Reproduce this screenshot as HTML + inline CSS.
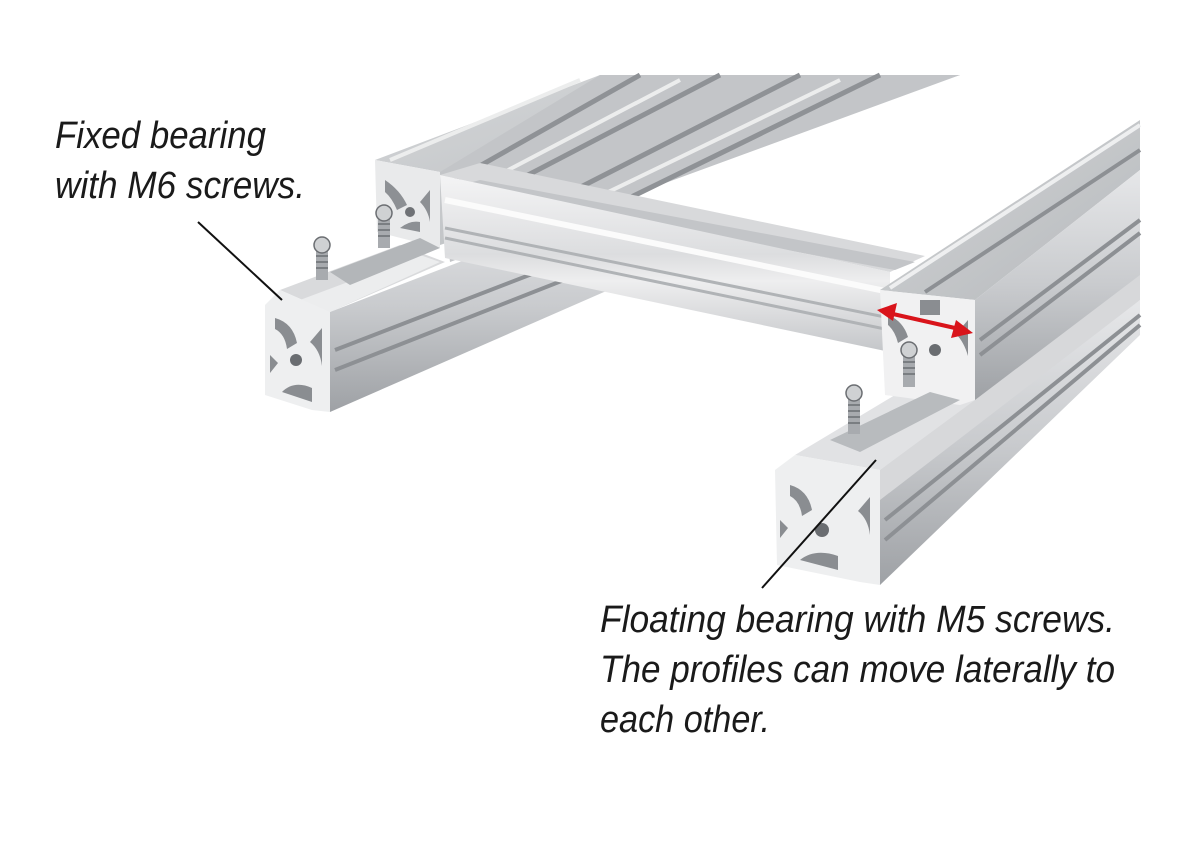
<!DOCTYPE html>
<html><head><meta charset="utf-8"><style>
html,body{margin:0;padding:0;background:#fff;}
svg{display:block}
text{font-family:"Liberation Sans",sans-serif;font-style:italic;fill:#1a1a1a}
</style></head><body>
<svg width="1200" height="844" viewBox="0 0 1200 844" xmlns="http://www.w3.org/2000/svg">
<defs>
<linearGradient id="side" x1="0" y1="0" x2="0" y2="1">
<stop offset="0" stop-color="#e6e7e9"/><stop offset="0.5" stop-color="#c9cbce"/><stop offset="1" stop-color="#9ea1a5"/></linearGradient>
<linearGradient id="top" x1="0" y1="0" x2="1" y2="1">
<stop offset="0" stop-color="#d4d6d8"/><stop offset="1" stop-color="#b5b8bb"/></linearGradient>
<linearGradient id="cross" x1="0" y1="0" x2="0" y2="1">
<stop offset="0" stop-color="#f4f4f5"/><stop offset="0.45" stop-color="#dcdddf"/><stop offset="0.6" stop-color="#eeeeef"/><stop offset="1" stop-color="#c4c6c9"/></linearGradient>
</defs>

<!-- Profile A (back-left, going up-right) -->
<polygon points="375,160 600,75 960,75 440,245 440,172" fill="url(#top)"/>
<polygon points="440,172 600,75 960,75 450,262" fill="#c3c5c8"/>
<g stroke="#8f9296" stroke-width="5" fill="none">
<line x1="455" y1="180" x2="640" y2="75"/>
<line x1="480" y1="200" x2="720" y2="75"/>
<line x1="520" y1="218" x2="800" y2="75"/>
<line x1="560" y1="232" x2="880" y2="75"/>
</g>
<g stroke="#eceded" stroke-width="4" fill="none">
<line x1="390" y1="160" x2="580" y2="80"/>
<line x1="470" y1="190" x2="680" y2="80"/>
<line x1="540" y1="225" x2="840" y2="80"/>
</g>
<!-- A end face -->
<polygon points="375,160 440,172 440,248 377,232" fill="#e9eaeb"/>
<path d="M385,180 q15,10 22,25 l-10,5 q-5,-12 -12,-18z M430,190 l-10,12 q8,8 10,20z M400,228 q10,-8 20,-6 l0,10z" fill="#8d9094"/>
<circle cx="410" cy="212" r="5" fill="#6f7276"/>

<!-- Profile B (left front rail) -->
<polygon points="330,312 620,200 620,285 330,412" fill="url(#side)"/>
<g stroke="#8d9094" stroke-width="4">
<line x1="335" y1="350" x2="620" y2="240"/>
<line x1="335" y1="370" x2="620" y2="258"/>
</g>
<polygon points="280,290 400,245 445,262 330,312" fill="#d9dadc"/>
<polygon points="300,300 420,255 440,262 330,312 310,306" fill="#ecedee"/>
<!-- B end face -->
<path d="M265,305 L280,290 L330,312 L330,412 L312,410 L265,395 Z" fill="#eeeff0"/>
<path d="M275,318 q18,5 22,25 l-10,6 q-2,-15 -12,-20z M322,328 l-12,14 q10,8 12,24z M282,392 q12,-12 30,-4 l0,14z M270,355 l8,8 l-8,10z" fill="#8a8d91"/>
<circle cx="296" cy="360" r="6" fill="#6a6d71"/>

<!-- fixed bearing screws -->
<g>
<rect x="316" y="250" width="12" height="30" fill="#a8abaf"/>
<circle cx="322" cy="245" r="8" fill="#cfd1d3" stroke="#6b6e72" stroke-width="1.5"/>
<g stroke="#6b6e72" stroke-width="1.5"><line x1="316" y1="256" x2="328" y2="256"/><line x1="316" y1="262" x2="328" y2="262"/><line x1="316" y1="268" x2="328" y2="268"/></g>
<rect x="378" y="218" width="12" height="30" fill="#a8abaf"/>
<circle cx="384" cy="213" r="8" fill="#cfd1d3" stroke="#6b6e72" stroke-width="1.5"/>
<g stroke="#6b6e72" stroke-width="1.5"><line x1="378" y1="224" x2="390" y2="224"/><line x1="378" y1="230" x2="390" y2="230"/><line x1="378" y1="236" x2="390" y2="236"/></g>
<polygon points="330,272 420,238 440,248 350,285" fill="#b3b6b9"/>
</g>

<!-- Cross member C -->
<polygon points="440,175 480,163 925,256 890,272" fill="#d8d9db"/>
<polygon points="450,188 480,180 915,262 895,270" fill="#c3c5c8"/>
<polygon points="440,175 890,272 890,352 445,258" fill="url(#cross)"/>
<g stroke="#b0b3b6" stroke-width="3">
<line x1="445" y1="228" x2="890" y2="318"/>
<line x1="445" y1="238" x2="890" y2="330"/>
</g>
<line x1="445" y1="200" x2="890" y2="292" stroke="#fbfbfb" stroke-width="6"/>

<!-- Profile D (right front rail) -->
<polygon points="880,470 1140,300 1140,335 880,585" fill="url(#side)"/>
<polygon points="880,470 1140,270 1140,300 880,500" fill="#d7d8da"/>
<g stroke="#8d9094" stroke-width="4">
<line x1="885" y1="520" x2="1140" y2="315"/>
<line x1="885" y1="540" x2="1140" y2="325"/>
</g>
<polygon points="795,455 880,470 975,400 900,392" fill="#e1e2e4"/>
<!-- D end face -->
<path d="M775,470 L795,455 L880,470 L880,585 L860,582 L777,565 Z" fill="#eeeff0"/>
<path d="M790,485 q18,5 22,25 l-10,6 q-2,-15 -12,-20z M870,497 l-12,14 q10,8 12,24z M800,560 q15,-12 38,-4 l0,14z M780,520 l8,8 l-8,10z" fill="#8a8d91"/>
<circle cx="822" cy="530" r="7" fill="#6a6d71"/>

<!-- Profile E (right upper) -->
<polygon points="880,290 1140,120 1140,170 975,300" fill="url(#top)"/>
<polygon points="975,300 1140,170 1140,275 975,400" fill="url(#side)"/>
<g stroke="#8d9094" stroke-width="4">
<line x1="925" y1="292" x2="1140" y2="150"/>
<line x1="980" y1="340" x2="1140" y2="220"/>
<line x1="980" y1="355" x2="1140" y2="233"/>
</g>
<line x1="890" y1="288" x2="1140" y2="125" stroke="#eeeff0" stroke-width="4"/>
<!-- E end face -->
<path d="M880,290 L975,300 L975,400 L960,405 L885,395 Z" fill="#f1f1f2"/>
<path d="M888,315 q15,6 20,22 l-10,6 q-3,-12 -10,-18z M968,320 l-12,14 q8,8 12,22z M920,300 l20,0 l0,15 l-20,0z" fill="#8a8d91"/>
<circle cx="935" cy="350" r="6" fill="#6a6d71"/>

<!-- floating bearing screws -->
<polygon points="830,440 930,392 960,400 860,452" fill="#b8bbbe"/>
<rect x="848" y="398" width="12" height="36" fill="#a8abaf"/>
<circle cx="854" cy="393" r="8" fill="#cfd1d3" stroke="#6b6e72" stroke-width="1.5"/>
<g stroke="#6b6e72" stroke-width="1.5"><line x1="848" y1="405" x2="860" y2="405"/><line x1="848" y1="411" x2="860" y2="411"/><line x1="848" y1="417" x2="860" y2="417"/><line x1="848" y1="423" x2="860" y2="423"/></g>
<rect x="903" y="355" width="12" height="32" fill="#a8abaf"/>
<circle cx="909" cy="350" r="8" fill="#cfd1d3" stroke="#6b6e72" stroke-width="1.5"/>
<g stroke="#6b6e72" stroke-width="1.5"><line x1="903" y1="362" x2="915" y2="362"/><line x1="903" y1="368" x2="915" y2="368"/><line x1="903" y1="374" x2="915" y2="374"/></g>

<!-- red double arrow -->
<line x1="893" y1="314" x2="955" y2="328" stroke="#d9141b" stroke-width="4"/>
<polygon points="877,310 897,303 893,321" fill="#d9141b"/>
<polygon points="973,333 951,338 956,320" fill="#d9141b"/>

<!-- leader lines -->
<line x1="198" y1="222" x2="282" y2="300" stroke="#111" stroke-width="2"/>
<line x1="762" y1="588" x2="876" y2="460" stroke="#111" stroke-width="2"/>

<!-- labels -->
<text x="55" y="148" font-size="38" textLength="211" lengthAdjust="spacingAndGlyphs">Fixed bearing</text>
<text x="55" y="198" font-size="38" textLength="250" lengthAdjust="spacingAndGlyphs">with M6 screws.</text>
<text x="600" y="632" font-size="38" textLength="515" lengthAdjust="spacingAndGlyphs">Floating bearing with M5 screws.</text>
<text x="600" y="682" font-size="38" textLength="515" lengthAdjust="spacingAndGlyphs">The profiles can move laterally to</text>
<text x="600" y="732" font-size="38" textLength="170" lengthAdjust="spacingAndGlyphs">each other.</text>
</svg>
</body></html>
